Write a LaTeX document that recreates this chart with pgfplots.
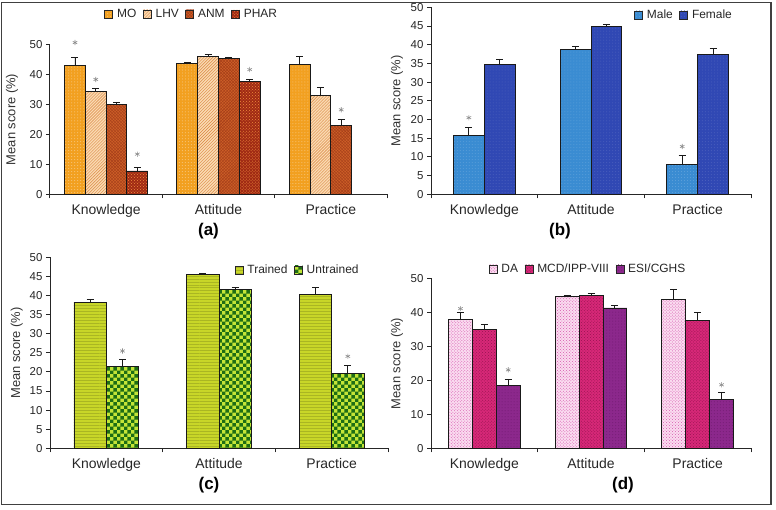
\documentclass[border=0pt]{standalone}
\usepackage{pgfplots}
\pgfplotsset{compat=1.18}
\usepackage{pgfplotstable}
\usetikzlibrary{patterns}
\usepackage{fontspec}
\setmainfont{Liberation Sans}

\pgfdeclarepatternformonly{mycheck}{\pgfpointorigin}{\pgfqpoint{7.4bp}{7.4bp}}{\pgfqpoint{7.4bp}{7.4bp}}{%
  \pgfpathrectangle{\pgfpointorigin}{\pgfqpoint{3.7bp}{3.7bp}}%
  \pgfpathrectangle{\pgfqpoint{3.7bp}{3.7bp}}{\pgfqpoint{3.7bp}{3.7bp}}%
  \pgfusepath{fill}}

\definecolor{mo}{RGB}{242,160,32}
\definecolor{lhvb}{RGB}{250,218,178}
\definecolor{lhvl}{RGB}{218,135,65}
\definecolor{anm}{RGB}{205,95,40}
\definecolor{anml}{RGB}{165,62,25}
\definecolor{phar}{RGB}{160,42,20}
\definecolor{phard}{RGB}{240,140,60}
\definecolor{male}{RGB}{58,140,210}
\definecolor{female}{RGB}{48,72,180}
\definecolor{trained}{RGB}{200,214,40}
\definecolor{untrd}{RGB}{30,110,20}
\definecolor{untrl}{RGB}{195,228,55}
\definecolor{dab}{RGB}{250,220,240}
\definecolor{dad}{RGB}{215,90,175}
\definecolor{mcd}{RGB}{215,40,120}
\definecolor{mcdd}{RGB}{150,20,80}
\definecolor{esi}{RGB}{140,40,140}
\definecolor{esid}{RGB}{115,28,115}

\pgfplotstableread{
g mo moe lhv lhve anm anme phar phare
0 43.1 2.7 34.2 1.2 30.1 0.7 7.8 1.1
1 43.6 0.3 46.1 0.4 45.4 0.4 37.5 0.9
2 43.3 2.8 33.0 2.7 23.1 1.9 nan nan
}\tabA
\pgfplotstableread{
g m me f fe
0 15.7 2.3 34.8 1.4
1 38.7 0.9 45.0 0.4
2 7.9 2.5 37.5 1.6
}\tabB
\pgfplotstableread{
g t te u ue
0 38.2 0.9 21.4 1.8
1 45.6 0.3 41.5 0.7
2 40.4 1.6 19.5 2.3
}\tabC
\pgfplotstableread{
g da dae mcd mcde esi esie
0 37.9 2.2 35.0 1.5 18.4 1.8
1 44.7 0.3 45.1 0.4 41.3 0.7
2 43.8 2.8 37.6 2.5 14.4 2.1
}\tabD

\pgfplotsset{
  panel/.style={
    scale only axis, anchor=south west,
    axis lines*=left,
    axis line style={line width=1bp, black!85},
    xmin=-0.5, xmax=2.5, ymin=0, ymax=50,
    xtick={-0.5,0.5,1.5,2.5}, xticklabels={},
    extra x ticks={0,1,2},
    extra x tick labels={Knowledge,Attitude,Practice},
    extra x tick style={major tick length=0pt, tick style={draw=none}},
    tick align=outside,
    major tick length=4bp,
    tick style={line width=1bp, black!85},
    xticklabel style={font=\fontsize{14}{16}\selectfont, text=black!85, yshift=-7bp},
    yticklabel style={font=\fontsize{11.5}{13}\selectfont, text=black!85},
    /pgf/number format/assume math mode=true,
    ylabel={Mean score (\%)},
    ylabel style={font=\fontsize{13}{15}\selectfont, text=black!80, anchor=center},
    xlabel style={font=\fontsize{17}{19}\selectfont\bfseries, at={(axis description cs:0.5,0)}, anchor=center, yshift=-37bp},
    clip=false,
    legend style={draw=none, fill=none, legend columns=-1, anchor=center,
      font=\fontsize{12}{14}\selectfont, text=black!85, inner sep=0pt,
      nodes={inner sep=1.5bp},
      /tikz/every odd column/.append style={column sep=2.5bp},
      /tikz/every even column/.append style={column sep=5bp}},
    legend image code/.code={\draw[##1, line width=0.7bp, draw=black!85] (0bp,-3.5bp) rectangle (8bp,4.5bp);},
  },
  bars/.style={ybar, bar shift=0pt, draw=black!90, line width=0.9bp,
    error bars/y dir=plus, error bars/y explicit,
    error bars/error bar style={line width=0.9bp, black!90},
    error bars/error mark options={rotate=90, line width=0.9bp, black!90, mark size=3.5bp}},
  star/.style={only marks, mark=asterisk, mark size=2.6bp, black!45, line width=0.6bp, forget plot},
}

\begin{document}
\begin{tikzpicture}
\path (0bp,0bp) rectangle (776bp,508bp);
\draw[line width=1.6bp, black!75] (1.5bp,5bp) rectangle (771bp,506.8bp);

% (a)
\begin{axis}[panel, at={(50bp,315bp)}, width=337bp, height=150bp,
  ytick={0,10,...,50}, bar width=0.185,
  legend style={at={(axis description cs:0.42,1.2)}},
  xlabel={(a)}, xlabel style={xshift=-10bp},
  ylabel style={at={(axis description cs:-0.113,0.5)}}]
\addplot[bars, fill=mo, postaction={pattern=dots, pattern color=white!50!mo}] table[x expr=\thisrow{g}-0.2775, y=mo, y error=moe] {\tabA};
\addplot[bars, fill=lhvb, postaction={pattern=north east lines, pattern color=lhvl}] table[x expr=\thisrow{g}-0.0925, y=lhv, y error=lhve] {\tabA};
\addplot[bars, fill=anm, postaction={pattern=crosshatch, pattern color=anml}] table[x expr=\thisrow{g}+0.0925, y=anm, y error=anme] {\tabA};
\addplot[bars, fill=phar, postaction={pattern=crosshatch dots, pattern color=phard}] table[x expr=\thisrow{g}+0.2775, y=phar, y error=phare] {\tabA};
\addplot[star] coordinates {(-0.2775,50.6) (-0.0925,38.3) (0.2775,13.4) (1.2775,41.6) (2.0925,28.2)};
\legend{MO,LHV,ANM,PHAR}
\end{axis}

% (b)
\begin{axis}[panel, at={(431bp,315bp)}, width=320bp, height=187bp,
  ytick={0,5,...,50}, bar width=0.29,
  legend style={at={(axis description cs:0.79,0.957)}},
  xlabel={(b)}, xlabel style={xshift=-31bp},
  ylabel style={at={(axis description cs:-0.106,0.5)}}]
\addplot[bars, fill=male, postaction={pattern=dots, pattern color=white!20!male}] table[x expr=\thisrow{g}-0.145, y=m, y error=me] {\tabB};
\addplot[bars, fill=female, postaction={pattern=dots, pattern color=white!15!female}] table[x expr=\thisrow{g}+0.145, y=f, y error=fe] {\tabB};
\addplot[star] coordinates {(-0.145,20.5) (1.855,12.8)};
\legend{Male,Female}
\end{axis}

% (c)
\begin{axis}[panel, at={(50bp,61bp)}, width=338bp, height=191bp,
  ytick={0,5,...,50}, bar width=0.287,
  legend style={at={(axis description cs:0.732,0.932)}},
  xlabel={(c)}, xlabel style={xshift=-10bp},
  ylabel style={at={(axis description cs:-0.098,0.5)}}]
\addplot[bars, fill=trained, postaction={pattern=horizontal lines, pattern color=trained!85!black}] table[x expr=\thisrow{g}-0.1435, y=t, y error=te] {\tabC};
\addplot[bars, fill=untrl, postaction={pattern=mycheck, pattern color=untrd}] table[x expr=\thisrow{g}+0.1435, y=u, y error=ue] {\tabC};
\addplot[star] coordinates {(0.1435,25.5) (2.1435,24.1)};
\legend{Trained,Untrained}
\end{axis}

% (d)
\begin{axis}[panel, at={(431bp,61bp)}, width=320bp, height=170bp,
  ytick={0,10,...,50}, bar width=0.224,
  legend style={at={(axis description cs:0.49,1.053)}},
  xlabel={(d)}, xlabel style={xshift=32bp},
  ylabel style={at={(axis description cs:-0.106,0.5)}}]
\addplot[bars, fill=dab, postaction={pattern=crosshatch dots, pattern color=dad}] table[x expr=\thisrow{g}-0.224, y=da, y error=dae] {\tabD};
\addplot[bars, fill=mcd, postaction={pattern=crosshatch dots, pattern color=mcdd}] table[x expr=\thisrow{g}, y=mcd, y error=mcde] {\tabD};
\addplot[bars, fill=esi, postaction={pattern=dots, pattern color=esid}] table[x expr=\thisrow{g}+0.224, y=esi, y error=esie] {\tabD};
\addplot[star] coordinates {(-0.224,41.1) (0.224,23.1) (2.224,18.7)};
\legend{DA,MCD/IPP-VIII,ESI/CGHS}
\end{axis}
\end{tikzpicture}
\end{document}
